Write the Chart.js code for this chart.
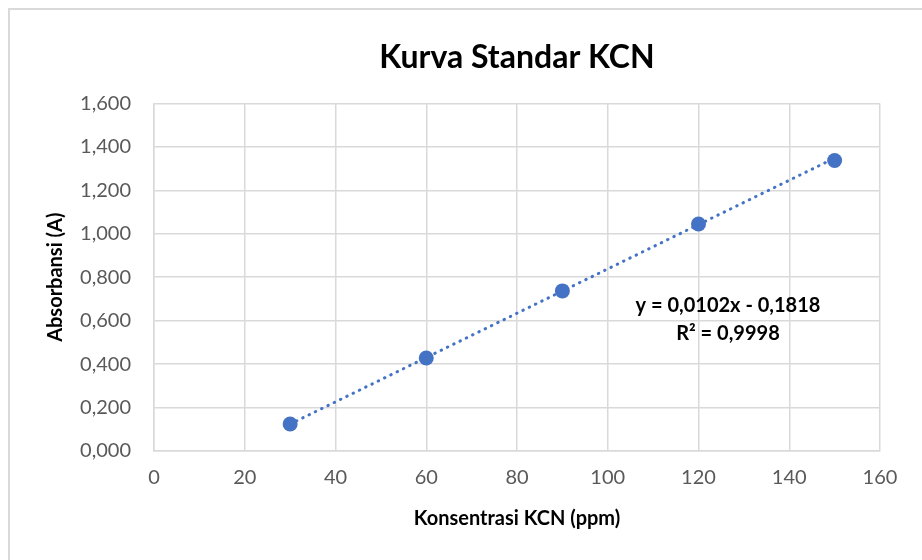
<!DOCTYPE html>
<html>
<head>
<meta charset="utf-8">
<script src="https://cdn.jsdelivr.net/npm/chart.js@4/dist/chart.umd.min.js"></script>
<style>
  html, body { margin: 0; padding: 0; background: #ffffff; }
  #wrap { position: relative; width: 922px; height: 560px; }
  canvas { display: block; }
</style>
</head>
<body>
<div id="wrap"><canvas id="c" width="922" height="560"></canvas></div>
<script>
// ---- data ----
const concentrations = [30, 60, 90, 120, 150];          // ppm
const absorbances    = [0.124, 0.428, 0.737, 1.045, 1.337];
const trendSlope     = 0.0102;    // from displayed equation
const trendIntercept = -0.1818;
const trendRange     = [30, 150];
const equationLines  = ['y = 0,0102x - 0,1818', 'R² = 0,9998'];
const equationAnchor = [126.5, 0.67]; // data position of the label
const yTicks = [0, 0.2, 0.4, 0.6, 0.8, 1.0, 1.2, 1.4, 1.6];
const xTicks = [0, 20, 40, 60, 80, 100, 120, 140, 160];

const BLUE = '#4472C4';
const GRID = '#d9d9d9';
const TICK_COLOR = '#595959';
const FONT = 'Lato, "Open Sans", sans-serif';

const pts = concentrations.map((x, i) => ({ x: x, y: absorbances[i] }));
const trendPts = trendRange.map(x => ({ x: x, y: trendSlope * x + trendIntercept }));

const frame = {
  id: 'frame',
  beforeDraw(chart) {
    const ctx = chart.ctx;
    ctx.save();
    ctx.fillStyle = '#ffffff';
    ctx.fillRect(0, 0, chart.width, chart.height);
    ctx.strokeStyle = '#d9d9d9';
    ctx.lineWidth = 2;
    ctx.beginPath();
    ctx.moveTo(9, chart.height);
    ctx.lineTo(9, 9);
    ctx.lineTo(chart.width, 9);
    ctx.stroke();
    ctx.restore();
  }
};

// centre the chart title over the plot area, as in the reference
const titleOverPlot = {
  id: 'titleOverPlot',
  afterLayout(chart) {
    const tb = chart.titleBlock;
    if (!tb) return;
    tb.left = chart.chartArea.left;
    tb.right = chart.chartArea.right;
    tb.width = tb.right - tb.left;
  }
};

const equationLabel = {
  id: 'equationLabel',
  afterDatasetsDraw(chart) {
    const xs = chart.scales.x, ys = chart.scales.y;
    const cx = xs.getPixelForValue(equationAnchor[0]);
    const cy = ys.getPixelForValue(equationAnchor[1]);
    const ctx = chart.ctx;
    ctx.save();
    ctx.fillStyle = '#000000';
    ctx.font = 'bold 20px ' + FONT;
    ctx.textAlign = 'center';
    ctx.textBaseline = 'middle';
    equationLines.forEach((t, i) => ctx.fillText(t, cx, cy + i * 28));
    ctx.restore();
  }
};

new Chart(document.getElementById('c'), {
  type: 'scatter',
  data: {
    datasets: [
      {
        label: 'Absorbansi',
        data: pts,
        backgroundColor: BLUE,
        borderColor: BLUE,
        pointRadius: 7.5,
        pointHoverRadius: 7.5,
        pointBorderWidth: 0,
        showLine: false,
        order: 1
      },
      {
        label: 'Linear',
        data: trendPts,
        type: 'line',
        showLine: true,
        borderColor: BLUE,
        borderWidth: 3,
        borderDash: [0.5, 6.5],
        borderCapStyle: 'round',
        pointRadius: 0,
        fill: false,
        order: 2
      }
    ]
  },
  options: {
    responsive: false,
    animation: false,
    layout: { padding: { left: 0, right: 42, top: 0, bottom: 0 } },
    plugins: {
      legend: { display: false },
      tooltip: { enabled: false },
      title: {
        display: true,
        text: 'Kurva Standar KCN',
        color: '#000000',
        font: { family: FONT, size: 32, weight: 'bold', lineHeight: 1.2 },
        padding: { top: 38, bottom: 27 }
      }
    },
    scales: {
      x: {
        type: 'linear',
        min: 0, max: 160,
        afterBuildTicks(scale) { scale.ticks = xTicks.map(v => ({ value: v })); },
        afterFit(scale) { scale.height = 109; },
        grid: { color: GRID, lineWidth: 1.5, drawTicks: false },
        border: { display: true, color: GRID, width: 1.5 },
        ticks: {
          color: TICK_COLOR,
          font: { family: FONT, size: 20 },
          padding: 15,
          callback: v => String(v)
        },
        title: {
          display: true,
          text: 'Konsentrasi KCN (ppm)',
          color: '#000000',
          font: { family: FONT, size: 20, weight: 'bold' },
          padding: { top: 0, bottom: 29 }
        }
      },
      y: {
        type: 'linear',
        min: 0, max: 1.6,
        afterBuildTicks(scale) { scale.ticks = yTicks.map(v => ({ value: v })); },
        afterFit(scale) { scale.width = 154; },
        grid: { color: GRID, lineWidth: 1.5, drawTicks: false },
        border: { display: true, color: GRID, width: 1.5 },
        ticks: {
          color: TICK_COLOR,
          font: { family: FONT, size: 20 },
          padding: 23,
          callback: v => v.toFixed(3).replace('.', ',')
        },
        title: {
          display: true,
          text: 'Absorbansi (A)',
          color: '#000000',
          font: { family: FONT, size: 20, weight: 'bold' },
          padding: { top: 44, bottom: 0 }
        }
      }
    }
  },
  plugins: [frame, titleOverPlot, equationLabel]
});
</script>
</body>
</html>
